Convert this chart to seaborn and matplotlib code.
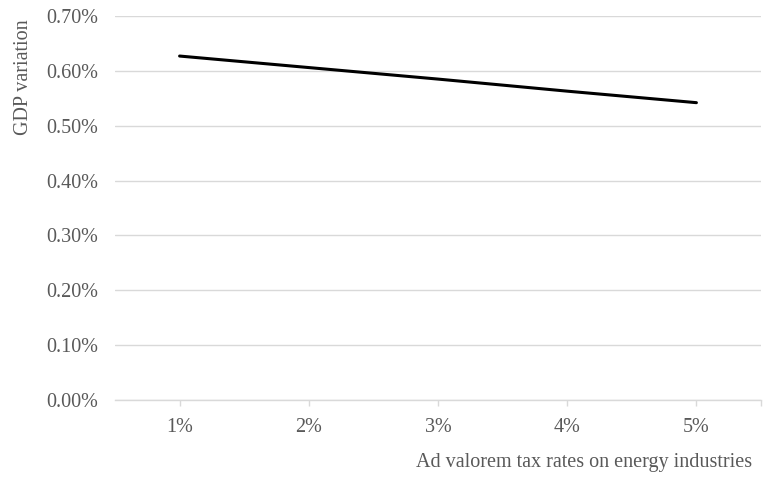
import matplotlib
matplotlib.use("Agg")
import matplotlib.pyplot as plt
import seaborn as sns
import pandas as pd
from matplotlib.ticker import FuncFormatter

# data
tax_rates = ["1%", "2%", "3%", "4%", "5%"]
gdp_variation = [0.627, 0.606, 0.585, 0.563, 0.542]  # in percent

y_ticks = [0.0, 0.1, 0.2, 0.3, 0.4, 0.5, 0.6, 0.7]

sns.set_theme(style="white")
plt.rcParams['font.family'] = ['Liberation Serif', 'DejaVu Serif']

df = pd.DataFrame({"rate": tax_rates, "gdp": gdp_variation})
df["pos"] = range(len(df))

fig = plt.figure(figsize=(7.63, 4.78), dpi=100)
ax = fig.add_axes([115 / 763, 1 - 400 / 478, (761 - 115) / 763, (400 - 16) / 478])

sns.lineplot(data=df, x="pos", y="gdp", color="black", linewidth=2.2, ax=ax)

text_col = "#595959"
grid_col = "#d9d9d9"
fs = 14.5

ax.set_xlim(-0.5, len(tax_rates) - 0.5)
ax.set_ylim(0, 0.7)
ax.set_yticks(y_ticks)
ax.yaxis.set_major_formatter(FuncFormatter(lambda v, p: f"{v:.2f}%"))
ax.set_xticks(range(len(tax_rates)))
ax.set_xticklabels(tax_rates)
ax.set_xticks([len(tax_rates) - 0.5], minor=True)

ax.grid(axis="y", color=grid_col, linewidth=1)
ax.set_axisbelow(True)
for s in ["top", "right", "left"]:
    ax.spines[s].set_visible(False)
ax.spines["bottom"].set_color(grid_col)
ax.spines["bottom"].set_linewidth(1)

ax.tick_params(axis="x", which="both", length=4, width=1, color=grid_col,
               labelsize=fs, labelcolor=text_col, pad=9, bottom=True)
ax.tick_params(axis="y", length=0, labelsize=fs, labelcolor=text_col, pad=12)

ax.set_xlabel("Ad valorem tax rates on energy industries", fontsize=fs, color=text_col)
ax.xaxis.set_label_coords(0.986, -0.164)
ax.xaxis.label.set_horizontalalignment("right")
ax.xaxis.label.set_verticalalignment("center")
ax.set_ylabel("GDP variation", fontsize=fs, color=text_col)
ax.yaxis.set_label_coords(-0.142, 0.99)
ax.yaxis.label.set_rotation_mode("anchor")
ax.yaxis.label.set_horizontalalignment("right")
ax.yaxis.label.set_verticalalignment("center")

fig.savefig("out.png", dpi=100)
